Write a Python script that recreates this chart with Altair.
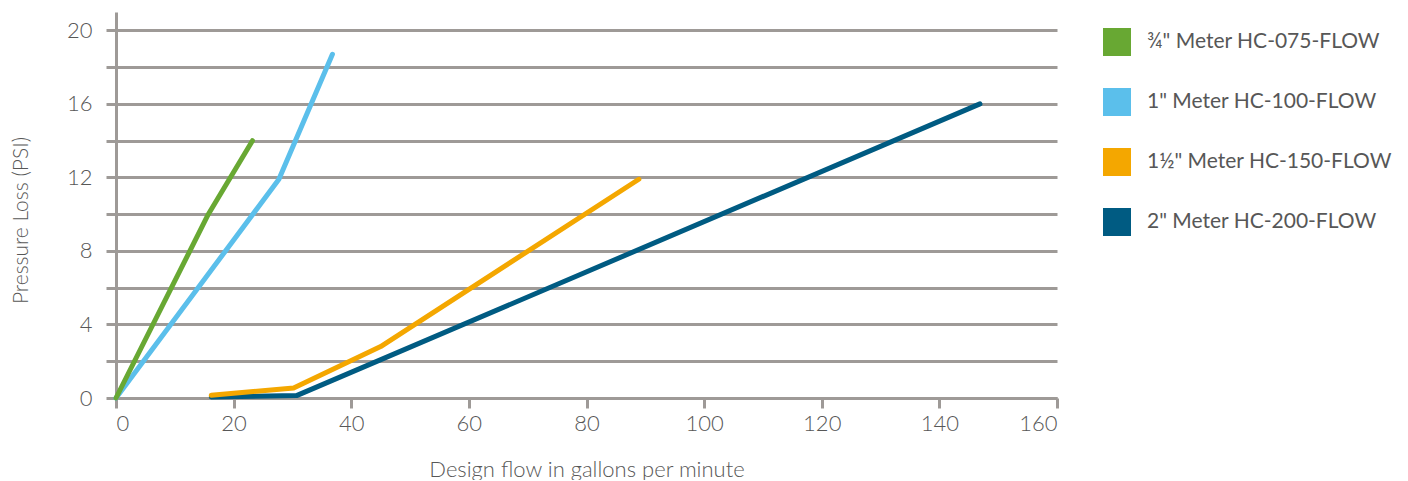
import altair as alt
import pandas as pd

# ---- data ----
series_names = ['¾" Meter HC-075-FLOW', '1" Meter HC-100-FLOW',
                '1½" Meter HC-150-FLOW', '2" Meter HC-200-FLOW']
series_colors = ["#68a833", "#5bbfeb", "#f4a700", "#005b82"]

flow_075 = [0, 15.7, 23.2]
psi_075 = [0, 10.0, 14.0]

flow_100 = [0, 27.7, 36.8]
psi_100 = [0, 11.9, 18.7]

flow_150 = [16.2, 30.2, 45.0, 88.9]
psi_150 = [0.15, 0.55, 2.8, 11.9]

flow_200 = [16.2, 30.7, 146.9]
psi_200 = [0.05, 0.13, 16.0]

x_ticks = list(range(0, 161, 20))
y_ticks = list(range(0, 21, 2))

# build table (drawn bottom-to-top: 2", 1½", 1", ¾")
rows = []
for name, fx, py in [
    (series_names[3], flow_200, psi_200),
    (series_names[2], flow_150, psi_150),
    (series_names[1], flow_100, psi_100),
    (series_names[0], flow_075, psi_075),
]:
    for i, (a, b) in enumerate(zip(fx, py)):
        rows.append({"series": name, "flow": a, "psi": b, "order": i})
df = pd.DataFrame(rows)

GRAY = "#9e9a97"
TXT = "#575757"
FONT = "Lato"

chart = (
    alt.Chart(df)
    .mark_line(strokeWidth=5, strokeCap="round", strokeJoin="round")
    .encode(
        x=alt.X(
            "flow:Q",
            scale=alt.Scale(domain=[0, 160], nice=False),
            axis=alt.Axis(
                values=x_ticks,
                grid=False,
                title="Design flow in gallons per minute",
                titlePadding=25,
                titleFontSize=22,
            ),
        ),
        y=alt.Y(
            "psi:Q",
            scale=alt.Scale(domain=[0, 21], nice=False),
            axis=alt.Axis(
                values=y_ticks,
                labelExpr="datum.value % 4 == 0 ? datum.label : ''",
                grid=True,
                gridColor=GRAY,
                gridWidth=3,
                title="Pressure Loss (PSI)",
                titlePadding=35,
                titleFontSize=21,
                titleY=208,
                labelPadding=14,
            ),
        ),
        color=alt.Color(
            "series:N",
            scale=alt.Scale(domain=series_names, range=series_colors),
            legend=alt.Legend(
                title=None,
                orient="none",
                legendX=987,
                legendY=16,
                symbolType="square",
                symbolSize=196,
                symbolStrokeWidth=14,
                symbolOpacity=1,
                labelFontSize=21,
                labelFont=FONT,
                labelColor=TXT,
                labelOffset=16,
                rowPadding=-10,
                padding=0,
                labelLimit=400,
            ),
        ),
        order="order:Q",
        detail="series:N",
    )
    .properties(
        width=941,
        height=386,
        padding={"left": 2, "top": 4, "right": 5, "bottom": 0},
    )
    .configure_view(stroke=None)
    .configure_axis(
        domainColor=GRAY,
        domainWidth=3,
        tickColor=GRAY,
        tickWidth=3,
        tickSize=10,
        labelFont=FONT,
        labelFontSize=22,
        labelFontWeight=300,
        labelColor=TXT,
        titleFont=FONT,
        titleFontWeight=300,
        titleColor=TXT,
    )
    .configure_axisX(labelPadding=5)
)

chart.save("out.html", embed_options={"renderer": "svg", "actions": False})
